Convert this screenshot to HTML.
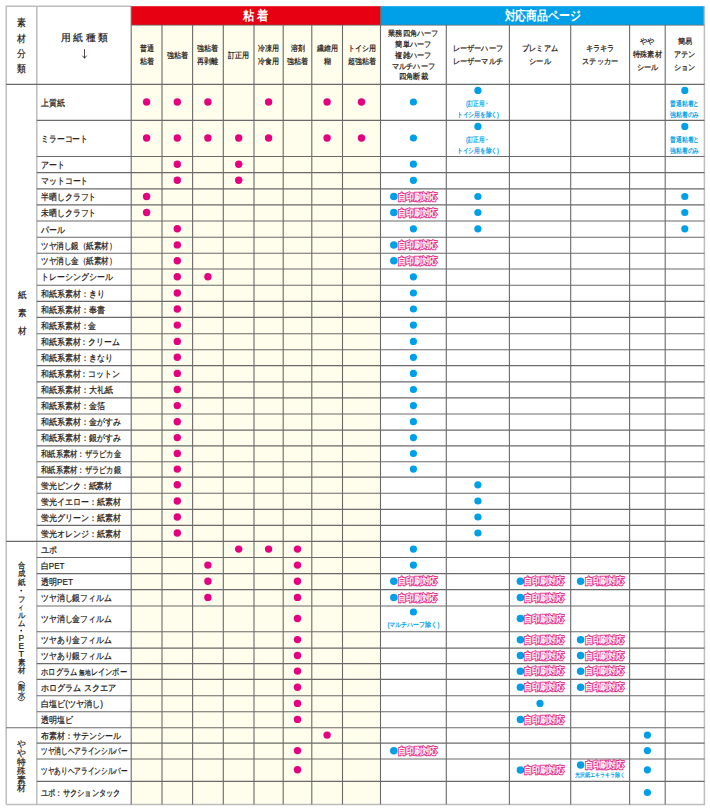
<!DOCTYPE html>
<html><head><meta charset="utf-8"><style>
html,body{margin:0;padding:0;background:#fff;width:710px;height:810px;overflow:hidden}
svg{position:absolute;left:0;top:0;display:block}
text{font-family:"Liberation Sans",sans-serif}
</style></head><body>
<svg width="710" height="810" viewBox="0 0 710 810">
<rect x="131.2" y="25.0" width="249.3" height="779.4" fill="#fffdec"/>
<rect x="131.2" y="6.2" width="249.3" height="18.8" fill="#e60012"/>
<rect x="380.5" y="6.2" width="323.9" height="18.8" fill="#00a0e9"/>
<path d="M6.2 804.4V6.2H131.2" stroke="#bdbdbd" stroke-width="1.5" fill="none"/>
<path d="M704.4 6.2V804.4H6.2" stroke="#bdbdbd" stroke-width="1.5" fill="none"/>
<path d="M36.8 6.2V804.4" stroke="#bdbdbd" stroke-width="1.5" fill="none"/>
<path d="M131.2 6.2V804.4" stroke="#6a6a6a" stroke-width="1.1" fill="none"/>
<path d="M162.0 25.0V804.4" stroke="#6a6a6a" stroke-width="1.1" fill="none"/>
<path d="M192.6 25.0V804.4" stroke="#6a6a6a" stroke-width="1.1" fill="none"/>
<path d="M223.3 25.0V804.4" stroke="#6a6a6a" stroke-width="1.1" fill="none"/>
<path d="M254.0 25.0V804.4" stroke="#6a6a6a" stroke-width="1.1" fill="none"/>
<path d="M283.2 25.0V804.4" stroke="#6a6a6a" stroke-width="1.1" fill="none"/>
<path d="M311.8 25.0V804.4" stroke="#6a6a6a" stroke-width="1.1" fill="none"/>
<path d="M342.5 25.0V804.4" stroke="#6a6a6a" stroke-width="1.1" fill="none"/>
<path d="M380.5 6.2V804.4" stroke="#6a6a6a" stroke-width="1.1" fill="none"/>
<path d="M446.3 25.0V804.4" stroke="#6a6a6a" stroke-width="1.1" fill="none"/>
<path d="M509.4 25.0V804.4" stroke="#6a6a6a" stroke-width="1.1" fill="none"/>
<path d="M570.7 25.0V804.4" stroke="#6a6a6a" stroke-width="1.1" fill="none"/>
<path d="M629.6 25.0V804.4" stroke="#6a6a6a" stroke-width="1.1" fill="none"/>
<path d="M665.2 25.0V804.4" stroke="#6a6a6a" stroke-width="1.1" fill="none"/>
<path d="M131.2 25.2H704.4" stroke="#6a6a6a" stroke-width="0.8" fill="none"/>
<path d="M6.2 84.4H704.4" stroke="#6a6a6a" stroke-width="1.1" fill="none"/>
<path d="M36.8 120.4H704.4" stroke="#6a6a6a" stroke-width="1.1" fill="none"/>
<path d="M36.8 156.5H704.4" stroke="#6a6a6a" stroke-width="1.1" fill="none"/>
<path d="M36.8 172.6H704.4" stroke="#6a6a6a" stroke-width="1.1" fill="none"/>
<path d="M36.8 188.9H704.4" stroke="#6a6a6a" stroke-width="1.1" fill="none"/>
<path d="M36.8 204.9H704.4" stroke="#6a6a6a" stroke-width="1.1" fill="none"/>
<path d="M36.8 221.0H704.4" stroke="#6a6a6a" stroke-width="1.1" fill="none"/>
<path d="M36.8 237.3H704.4" stroke="#6a6a6a" stroke-width="1.1" fill="none"/>
<path d="M36.8 253.3H704.4" stroke="#6a6a6a" stroke-width="1.1" fill="none"/>
<path d="M36.8 269.0H704.4" stroke="#6a6a6a" stroke-width="1.1" fill="none"/>
<path d="M36.8 285.3H704.4" stroke="#6a6a6a" stroke-width="1.1" fill="none"/>
<path d="M36.8 301.4H704.4" stroke="#6a6a6a" stroke-width="1.1" fill="none"/>
<path d="M36.8 317.4H704.4" stroke="#6a6a6a" stroke-width="1.1" fill="none"/>
<path d="M36.8 333.7H704.4" stroke="#6a6a6a" stroke-width="1.1" fill="none"/>
<path d="M36.8 349.8H704.4" stroke="#6a6a6a" stroke-width="1.1" fill="none"/>
<path d="M36.8 365.6H704.4" stroke="#6a6a6a" stroke-width="1.1" fill="none"/>
<path d="M36.8 381.9H704.4" stroke="#6a6a6a" stroke-width="1.1" fill="none"/>
<path d="M36.8 397.9H704.4" stroke="#6a6a6a" stroke-width="1.1" fill="none"/>
<path d="M36.8 414.0H704.4" stroke="#6a6a6a" stroke-width="1.1" fill="none"/>
<path d="M36.8 430.1H704.4" stroke="#6a6a6a" stroke-width="1.1" fill="none"/>
<path d="M36.8 445.9H704.4" stroke="#6a6a6a" stroke-width="1.1" fill="none"/>
<path d="M36.8 461.8H704.4" stroke="#6a6a6a" stroke-width="1.1" fill="none"/>
<path d="M36.8 477.1H704.4" stroke="#6a6a6a" stroke-width="1.1" fill="none"/>
<path d="M36.8 493.3H704.4" stroke="#6a6a6a" stroke-width="1.1" fill="none"/>
<path d="M36.8 509.4H704.4" stroke="#6a6a6a" stroke-width="1.1" fill="none"/>
<path d="M36.8 525.4H704.4" stroke="#6a6a6a" stroke-width="1.1" fill="none"/>
<path d="M6.2 541.4H704.4" stroke="#6a6a6a" stroke-width="1.1" fill="none"/>
<path d="M36.8 557.5H704.4" stroke="#6a6a6a" stroke-width="1.1" fill="none"/>
<path d="M36.8 573.6H704.4" stroke="#6a6a6a" stroke-width="1.1" fill="none"/>
<path d="M36.8 589.6H704.4" stroke="#6a6a6a" stroke-width="1.1" fill="none"/>
<path d="M36.8 606.0H704.4" stroke="#6a6a6a" stroke-width="1.1" fill="none"/>
<path d="M36.8 631.8H704.4" stroke="#6a6a6a" stroke-width="1.1" fill="none"/>
<path d="M36.8 648.1H704.4" stroke="#6a6a6a" stroke-width="1.1" fill="none"/>
<path d="M36.8 663.6H704.4" stroke="#6a6a6a" stroke-width="1.1" fill="none"/>
<path d="M36.8 679.4H704.4" stroke="#6a6a6a" stroke-width="1.1" fill="none"/>
<path d="M36.8 695.8H704.4" stroke="#6a6a6a" stroke-width="1.1" fill="none"/>
<path d="M36.8 711.7H704.4" stroke="#6a6a6a" stroke-width="1.1" fill="none"/>
<path d="M6.2 727.8H704.4" stroke="#6a6a6a" stroke-width="1.1" fill="none"/>
<path d="M36.8 743.1H704.4" stroke="#6a6a6a" stroke-width="1.1" fill="none"/>
<path d="M36.8 759.0H704.4" stroke="#6a6a6a" stroke-width="1.1" fill="none"/>
<path d="M36.8 781.4H704.4" stroke="#6a6a6a" stroke-width="1.1" fill="none"/>
<circle cx="146.6" cy="102.0" r="3.7" fill="#e5007f"/>
<circle cx="177.3" cy="102.0" r="3.7" fill="#e5007f"/>
<circle cx="207.9" cy="102.0" r="3.7" fill="#e5007f"/>
<circle cx="268.6" cy="102.0" r="3.7" fill="#e5007f"/>
<circle cx="327.1" cy="102.0" r="3.7" fill="#e5007f"/>
<circle cx="361.5" cy="102.0" r="3.7" fill="#e5007f"/>
<circle cx="413.4" cy="102.0" r="3.6" fill="#00a0e9"/>
<circle cx="477.9" cy="90.4" r="3.6" fill="#00a0e9"/>
<circle cx="684.8" cy="90.4" r="3.6" fill="#00a0e9"/>
<circle cx="146.6" cy="138.0" r="3.7" fill="#e5007f"/>
<circle cx="177.3" cy="138.0" r="3.7" fill="#e5007f"/>
<circle cx="207.9" cy="138.0" r="3.7" fill="#e5007f"/>
<circle cx="238.7" cy="138.0" r="3.7" fill="#e5007f"/>
<circle cx="268.6" cy="138.0" r="3.7" fill="#e5007f"/>
<circle cx="327.1" cy="138.0" r="3.7" fill="#e5007f"/>
<circle cx="361.5" cy="138.0" r="3.7" fill="#e5007f"/>
<circle cx="413.4" cy="138.0" r="3.6" fill="#00a0e9"/>
<circle cx="477.9" cy="126.4" r="3.6" fill="#00a0e9"/>
<circle cx="684.8" cy="126.4" r="3.6" fill="#00a0e9"/>
<circle cx="177.3" cy="164.2" r="3.7" fill="#e5007f"/>
<circle cx="238.7" cy="164.2" r="3.7" fill="#e5007f"/>
<circle cx="413.4" cy="164.2" r="3.6" fill="#00a0e9"/>
<circle cx="177.3" cy="180.3" r="3.7" fill="#e5007f"/>
<circle cx="238.7" cy="180.3" r="3.7" fill="#e5007f"/>
<circle cx="413.4" cy="180.3" r="3.6" fill="#00a0e9"/>
<circle cx="146.6" cy="196.5" r="3.7" fill="#e5007f"/>
<circle cx="393.8" cy="196.6" r="3.75" fill="#00a0e9"/>
<circle cx="477.9" cy="196.5" r="3.6" fill="#00a0e9"/>
<circle cx="684.8" cy="196.5" r="3.6" fill="#00a0e9"/>
<circle cx="146.6" cy="212.5" r="3.7" fill="#e5007f"/>
<circle cx="393.8" cy="212.6" r="3.75" fill="#00a0e9"/>
<circle cx="477.9" cy="212.5" r="3.6" fill="#00a0e9"/>
<circle cx="684.8" cy="212.5" r="3.6" fill="#00a0e9"/>
<circle cx="177.3" cy="228.8" r="3.7" fill="#e5007f"/>
<circle cx="413.4" cy="228.8" r="3.6" fill="#00a0e9"/>
<circle cx="477.9" cy="228.8" r="3.6" fill="#00a0e9"/>
<circle cx="684.8" cy="228.8" r="3.6" fill="#00a0e9"/>
<circle cx="177.3" cy="244.9" r="3.7" fill="#e5007f"/>
<circle cx="393.8" cy="245.0" r="3.75" fill="#00a0e9"/>
<circle cx="177.3" cy="260.8" r="3.7" fill="#e5007f"/>
<circle cx="393.8" cy="260.8" r="3.75" fill="#00a0e9"/>
<circle cx="177.3" cy="276.8" r="3.7" fill="#e5007f"/>
<circle cx="207.9" cy="276.8" r="3.7" fill="#e5007f"/>
<circle cx="413.4" cy="276.8" r="3.6" fill="#00a0e9"/>
<circle cx="177.3" cy="293.0" r="3.7" fill="#e5007f"/>
<circle cx="413.4" cy="293.0" r="3.6" fill="#00a0e9"/>
<circle cx="177.3" cy="309.0" r="3.7" fill="#e5007f"/>
<circle cx="413.4" cy="309.0" r="3.6" fill="#00a0e9"/>
<circle cx="177.3" cy="325.1" r="3.7" fill="#e5007f"/>
<circle cx="413.4" cy="325.1" r="3.6" fill="#00a0e9"/>
<circle cx="177.3" cy="341.4" r="3.7" fill="#e5007f"/>
<circle cx="413.4" cy="341.4" r="3.6" fill="#00a0e9"/>
<circle cx="177.3" cy="357.3" r="3.7" fill="#e5007f"/>
<circle cx="413.4" cy="357.3" r="3.6" fill="#00a0e9"/>
<circle cx="177.3" cy="373.4" r="3.7" fill="#e5007f"/>
<circle cx="413.4" cy="373.4" r="3.6" fill="#00a0e9"/>
<circle cx="177.3" cy="389.5" r="3.7" fill="#e5007f"/>
<circle cx="413.4" cy="389.5" r="3.6" fill="#00a0e9"/>
<circle cx="177.3" cy="405.6" r="3.7" fill="#e5007f"/>
<circle cx="413.4" cy="405.6" r="3.6" fill="#00a0e9"/>
<circle cx="177.3" cy="421.7" r="3.7" fill="#e5007f"/>
<circle cx="413.4" cy="421.7" r="3.6" fill="#00a0e9"/>
<circle cx="177.3" cy="437.6" r="3.7" fill="#e5007f"/>
<circle cx="413.4" cy="437.6" r="3.6" fill="#00a0e9"/>
<circle cx="177.3" cy="453.5" r="3.7" fill="#e5007f"/>
<circle cx="413.4" cy="453.5" r="3.6" fill="#00a0e9"/>
<circle cx="177.3" cy="469.1" r="3.7" fill="#e5007f"/>
<circle cx="413.4" cy="469.1" r="3.6" fill="#00a0e9"/>
<circle cx="177.3" cy="484.8" r="3.7" fill="#e5007f"/>
<circle cx="477.9" cy="484.8" r="3.6" fill="#00a0e9"/>
<circle cx="177.3" cy="501.0" r="3.7" fill="#e5007f"/>
<circle cx="477.9" cy="501.0" r="3.6" fill="#00a0e9"/>
<circle cx="177.3" cy="517.0" r="3.7" fill="#e5007f"/>
<circle cx="477.9" cy="517.0" r="3.6" fill="#00a0e9"/>
<circle cx="177.3" cy="533.0" r="3.7" fill="#e5007f"/>
<circle cx="477.9" cy="533.0" r="3.6" fill="#00a0e9"/>
<circle cx="238.7" cy="549.1" r="3.7" fill="#e5007f"/>
<circle cx="268.6" cy="549.1" r="3.7" fill="#e5007f"/>
<circle cx="297.5" cy="549.1" r="3.7" fill="#e5007f"/>
<circle cx="413.4" cy="549.1" r="3.6" fill="#00a0e9"/>
<circle cx="207.9" cy="565.1" r="3.7" fill="#e5007f"/>
<circle cx="297.5" cy="565.1" r="3.7" fill="#e5007f"/>
<circle cx="413.4" cy="565.1" r="3.6" fill="#00a0e9"/>
<circle cx="207.9" cy="581.2" r="3.7" fill="#e5007f"/>
<circle cx="297.5" cy="581.2" r="3.7" fill="#e5007f"/>
<circle cx="393.8" cy="581.3" r="3.75" fill="#00a0e9"/>
<circle cx="520.4" cy="581.3" r="3.75" fill="#00a0e9"/>
<circle cx="580.6" cy="581.3" r="3.75" fill="#00a0e9"/>
<circle cx="207.9" cy="597.4" r="3.7" fill="#e5007f"/>
<circle cx="297.5" cy="597.4" r="3.7" fill="#e5007f"/>
<circle cx="393.8" cy="597.5" r="3.75" fill="#00a0e9"/>
<circle cx="520.4" cy="597.5" r="3.75" fill="#00a0e9"/>
<circle cx="297.5" cy="618.5" r="3.7" fill="#e5007f"/>
<circle cx="413.4" cy="612.0" r="3.6" fill="#00a0e9"/>
<circle cx="520.4" cy="618.6" r="3.75" fill="#00a0e9"/>
<circle cx="297.5" cy="639.6" r="3.7" fill="#e5007f"/>
<circle cx="520.4" cy="639.7" r="3.75" fill="#00a0e9"/>
<circle cx="580.6" cy="639.7" r="3.75" fill="#00a0e9"/>
<circle cx="297.5" cy="655.5" r="3.7" fill="#e5007f"/>
<circle cx="520.4" cy="655.6" r="3.75" fill="#00a0e9"/>
<circle cx="580.6" cy="655.6" r="3.75" fill="#00a0e9"/>
<circle cx="297.5" cy="671.1" r="3.7" fill="#e5007f"/>
<circle cx="520.4" cy="671.2" r="3.75" fill="#00a0e9"/>
<circle cx="580.6" cy="671.2" r="3.75" fill="#00a0e9"/>
<circle cx="297.5" cy="687.2" r="3.7" fill="#e5007f"/>
<circle cx="520.4" cy="687.3" r="3.75" fill="#00a0e9"/>
<circle cx="580.6" cy="687.3" r="3.75" fill="#00a0e9"/>
<circle cx="297.5" cy="703.4" r="3.7" fill="#e5007f"/>
<circle cx="540.0" cy="703.4" r="3.6" fill="#00a0e9"/>
<circle cx="297.5" cy="719.4" r="3.7" fill="#e5007f"/>
<circle cx="520.4" cy="719.5" r="3.75" fill="#00a0e9"/>
<circle cx="327.1" cy="735.1" r="3.7" fill="#e5007f"/>
<circle cx="647.4" cy="735.1" r="3.6" fill="#00a0e9"/>
<circle cx="297.5" cy="750.6" r="3.7" fill="#e5007f"/>
<circle cx="393.8" cy="750.8" r="3.75" fill="#00a0e9"/>
<circle cx="647.4" cy="750.6" r="3.6" fill="#00a0e9"/>
<circle cx="297.5" cy="769.8" r="3.7" fill="#e5007f"/>
<circle cx="520.4" cy="769.9" r="3.75" fill="#00a0e9"/>
<circle cx="580.6" cy="765.0" r="3.75" fill="#00a0e9"/>
<circle cx="647.4" cy="769.8" r="3.6" fill="#00a0e9"/>
<circle cx="647.4" cy="792.5" r="3.6" fill="#00a0e9"/>
<text x="41.0" y="102.7" font-size="9.20" fill="#231815" font-weight="normal" text-anchor="start" dominant-baseline="central" textLength="23.7" lengthAdjust="spacingAndGlyphs" stroke="#231815" stroke-width="0.22">上質紙</text>
<text x="477.9" y="103.7" font-size="6.67" fill="#00a0e9" font-weight="bold" text-anchor="middle" dominant-baseline="central" textLength="24.0" lengthAdjust="spacingAndGlyphs">(訂正用・</text>
<text x="477.9" y="114.0" font-size="6.67" fill="#00a0e9" font-weight="bold" text-anchor="middle" dominant-baseline="central" textLength="42.0" lengthAdjust="spacingAndGlyphs">トイシ用を除く)</text>
<text x="684.8" y="103.7" font-size="6.67" fill="#00a0e9" font-weight="bold" text-anchor="middle" dominant-baseline="central" textLength="29.0" lengthAdjust="spacingAndGlyphs">普通粘着と</text>
<text x="684.8" y="114.0" font-size="6.67" fill="#00a0e9" font-weight="bold" text-anchor="middle" dominant-baseline="central" textLength="29.0" lengthAdjust="spacingAndGlyphs">強粘着のみ</text>
<text x="41.0" y="138.8" font-size="9.20" fill="#231815" font-weight="normal" text-anchor="start" dominant-baseline="central" textLength="47.2" lengthAdjust="spacingAndGlyphs" stroke="#231815" stroke-width="0.22">ミラーコート</text>
<text x="477.9" y="139.7" font-size="6.67" fill="#00a0e9" font-weight="bold" text-anchor="middle" dominant-baseline="central" textLength="24.0" lengthAdjust="spacingAndGlyphs">(訂正用・</text>
<text x="477.9" y="150.0" font-size="6.67" fill="#00a0e9" font-weight="bold" text-anchor="middle" dominant-baseline="central" textLength="42.0" lengthAdjust="spacingAndGlyphs">トイシ用を除く)</text>
<text x="684.8" y="139.7" font-size="6.67" fill="#00a0e9" font-weight="bold" text-anchor="middle" dominant-baseline="central" textLength="29.0" lengthAdjust="spacingAndGlyphs">普通粘着と</text>
<text x="684.8" y="150.0" font-size="6.67" fill="#00a0e9" font-weight="bold" text-anchor="middle" dominant-baseline="central" textLength="29.0" lengthAdjust="spacingAndGlyphs">強粘着のみ</text>
<text x="41.0" y="164.9" font-size="9.20" fill="#231815" font-weight="normal" text-anchor="start" dominant-baseline="central" textLength="23.8" lengthAdjust="spacingAndGlyphs" stroke="#231815" stroke-width="0.22">アート</text>
<text x="41.0" y="181.1" font-size="9.20" fill="#231815" font-weight="normal" text-anchor="start" dominant-baseline="central" textLength="47.3" lengthAdjust="spacingAndGlyphs" stroke="#231815" stroke-width="0.22">マットコート</text>
<text x="41.0" y="197.2" font-size="9.20" fill="#231815" font-weight="normal" text-anchor="start" dominant-baseline="central" textLength="55.4" lengthAdjust="spacingAndGlyphs" stroke="#231815" stroke-width="0.22">半晒しクラフト</text>
<text x="417.6" y="196.6" font-size="8.8" fill="#fff" stroke="#e4348c" stroke-width="2.0" paint-order="stroke" font-weight="bold" text-anchor="middle" dominant-baseline="central" textLength="39.6" lengthAdjust="spacingAndGlyphs">自印刷対応</text>
<text x="41.0" y="213.2" font-size="9.20" fill="#231815" font-weight="normal" text-anchor="start" dominant-baseline="central" textLength="55.4" lengthAdjust="spacingAndGlyphs" stroke="#231815" stroke-width="0.22">未晒しクラフト</text>
<text x="417.6" y="212.6" font-size="8.8" fill="#fff" stroke="#e4348c" stroke-width="2.0" paint-order="stroke" font-weight="bold" text-anchor="middle" dominant-baseline="central" textLength="39.6" lengthAdjust="spacingAndGlyphs">自印刷対応</text>
<text x="41.0" y="229.5" font-size="9.20" fill="#231815" font-weight="normal" text-anchor="start" dominant-baseline="central" textLength="23.8" lengthAdjust="spacingAndGlyphs" stroke="#231815" stroke-width="0.22">パール</text>
<text x="41.0" y="245.6" font-size="9.20" fill="#231815" font-weight="normal" text-anchor="start" dominant-baseline="central" textLength="75.2" lengthAdjust="spacingAndGlyphs" stroke="#231815" stroke-width="0.22">ツヤ消し銀（紙素材）</text>
<text x="417.6" y="245.0" font-size="8.8" fill="#fff" stroke="#e4348c" stroke-width="2.0" paint-order="stroke" font-weight="bold" text-anchor="middle" dominant-baseline="central" textLength="39.6" lengthAdjust="spacingAndGlyphs">自印刷対応</text>
<text x="41.0" y="261.4" font-size="9.20" fill="#231815" font-weight="normal" text-anchor="start" dominant-baseline="central" textLength="75.2" lengthAdjust="spacingAndGlyphs" stroke="#231815" stroke-width="0.22">ツヤ消し金（紙素材）</text>
<text x="417.6" y="260.8" font-size="8.8" fill="#fff" stroke="#e4348c" stroke-width="2.0" paint-order="stroke" font-weight="bold" text-anchor="middle" dominant-baseline="central" textLength="39.6" lengthAdjust="spacingAndGlyphs">自印刷対応</text>
<text x="41.0" y="277.4" font-size="9.20" fill="#231815" font-weight="normal" text-anchor="start" dominant-baseline="central" textLength="71.6" lengthAdjust="spacingAndGlyphs" stroke="#231815" stroke-width="0.22">トレーシングシール</text>
<text x="41.0" y="293.7" font-size="9.20" fill="#231815" font-weight="normal" text-anchor="start" dominant-baseline="central" textLength="63.5" lengthAdjust="spacingAndGlyphs" stroke="#231815" stroke-width="0.22">和紙系素材：きり</text>
<text x="41.0" y="309.7" font-size="9.20" fill="#231815" font-weight="normal" text-anchor="start" dominant-baseline="central" textLength="63.5" lengthAdjust="spacingAndGlyphs" stroke="#231815" stroke-width="0.22">和紙系素材：奉書</text>
<text x="41.0" y="325.8" font-size="9.20" fill="#231815" font-weight="normal" text-anchor="start" dominant-baseline="central" textLength="55.4" lengthAdjust="spacingAndGlyphs" stroke="#231815" stroke-width="0.22">和紙系素材：金</text>
<text x="41.0" y="342.1" font-size="9.20" fill="#231815" font-weight="normal" text-anchor="start" dominant-baseline="central" textLength="78.8" lengthAdjust="spacingAndGlyphs" stroke="#231815" stroke-width="0.22">和紙系素材：クリーム</text>
<text x="41.0" y="358.0" font-size="9.20" fill="#231815" font-weight="normal" text-anchor="start" dominant-baseline="central" textLength="71.6" lengthAdjust="spacingAndGlyphs" stroke="#231815" stroke-width="0.22">和紙系素材：きなり</text>
<text x="41.0" y="374.1" font-size="9.20" fill="#231815" font-weight="normal" text-anchor="start" dominant-baseline="central" textLength="78.8" lengthAdjust="spacingAndGlyphs" stroke="#231815" stroke-width="0.22">和紙系素材：コットン</text>
<text x="41.0" y="390.2" font-size="9.20" fill="#231815" font-weight="normal" text-anchor="start" dominant-baseline="central" textLength="71.6" lengthAdjust="spacingAndGlyphs" stroke="#231815" stroke-width="0.22">和紙系素材：大礼紙</text>
<text x="41.0" y="406.2" font-size="9.20" fill="#231815" font-weight="normal" text-anchor="start" dominant-baseline="central" textLength="63.5" lengthAdjust="spacingAndGlyphs" stroke="#231815" stroke-width="0.22">和紙系素材：金箔</text>
<text x="41.0" y="422.4" font-size="9.20" fill="#231815" font-weight="normal" text-anchor="start" dominant-baseline="central" textLength="79.7" lengthAdjust="spacingAndGlyphs" stroke="#231815" stroke-width="0.22">和紙系素材：金がすみ</text>
<text x="41.0" y="438.3" font-size="9.20" fill="#231815" font-weight="normal" text-anchor="start" dominant-baseline="central" textLength="79.7" lengthAdjust="spacingAndGlyphs" stroke="#231815" stroke-width="0.22">和紙系素材：銀がすみ</text>
<text x="41.0" y="454.2" font-size="9.20" fill="#231815" font-weight="normal" text-anchor="start" dominant-baseline="central" textLength="80.0" lengthAdjust="spacingAndGlyphs" stroke="#231815" stroke-width="0.22">和紙系素材：ザラピカ金</text>
<text x="41.0" y="469.8" font-size="9.20" fill="#231815" font-weight="normal" text-anchor="start" dominant-baseline="central" textLength="80.0" lengthAdjust="spacingAndGlyphs" stroke="#231815" stroke-width="0.22">和紙系素材：ザラピカ銀</text>
<text x="41.0" y="485.5" font-size="9.20" fill="#231815" font-weight="normal" text-anchor="start" dominant-baseline="central" textLength="71.3" lengthAdjust="spacingAndGlyphs" stroke="#231815" stroke-width="0.22">蛍光ピンク：紙素材</text>
<text x="41.0" y="501.7" font-size="9.20" fill="#231815" font-weight="normal" text-anchor="start" dominant-baseline="central" textLength="79.6" lengthAdjust="spacingAndGlyphs" stroke="#231815" stroke-width="0.22">蛍光イエロー：紙素材</text>
<text x="41.0" y="517.7" font-size="9.20" fill="#231815" font-weight="normal" text-anchor="start" dominant-baseline="central" textLength="79.6" lengthAdjust="spacingAndGlyphs" stroke="#231815" stroke-width="0.22">蛍光グリーン：紙素材</text>
<text x="41.0" y="533.7" font-size="9.20" fill="#231815" font-weight="normal" text-anchor="start" dominant-baseline="central" textLength="79.6" lengthAdjust="spacingAndGlyphs" stroke="#231815" stroke-width="0.22">蛍光オレンジ：紙素材</text>
<text x="41.0" y="549.8" font-size="9.20" fill="#231815" font-weight="normal" text-anchor="start" dominant-baseline="central" textLength="15.8" lengthAdjust="spacingAndGlyphs" stroke="#231815" stroke-width="0.22">ユポ</text>
<text x="41.0" y="565.8" font-size="9.20" fill="#231815" font-weight="normal" text-anchor="start" dominant-baseline="central" textLength="23.5" lengthAdjust="spacingAndGlyphs" stroke="#231815" stroke-width="0.22">白PET</text>
<text x="41.0" y="581.9" font-size="9.20" fill="#231815" font-weight="normal" text-anchor="start" dominant-baseline="central" textLength="32.0" lengthAdjust="spacingAndGlyphs" stroke="#231815" stroke-width="0.22">透明PET</text>
<text x="417.6" y="581.3" font-size="8.8" fill="#fff" stroke="#e4348c" stroke-width="2.0" paint-order="stroke" font-weight="bold" text-anchor="middle" dominant-baseline="central" textLength="39.6" lengthAdjust="spacingAndGlyphs">自印刷対応</text>
<text x="544.2" y="581.3" font-size="8.8" fill="#fff" stroke="#e4348c" stroke-width="2.0" paint-order="stroke" font-weight="bold" text-anchor="middle" dominant-baseline="central" textLength="39.6" lengthAdjust="spacingAndGlyphs">自印刷対応</text>
<text x="604.4" y="581.3" font-size="8.8" fill="#fff" stroke="#e4348c" stroke-width="2.0" paint-order="stroke" font-weight="bold" text-anchor="middle" dominant-baseline="central" textLength="39.6" lengthAdjust="spacingAndGlyphs">自印刷対応</text>
<text x="41.0" y="598.1" font-size="9.20" fill="#231815" font-weight="normal" text-anchor="start" dominant-baseline="central" textLength="70.6" lengthAdjust="spacingAndGlyphs" stroke="#231815" stroke-width="0.22">ツヤ消し銀フィルム</text>
<text x="417.6" y="597.5" font-size="8.8" fill="#fff" stroke="#e4348c" stroke-width="2.0" paint-order="stroke" font-weight="bold" text-anchor="middle" dominant-baseline="central" textLength="39.6" lengthAdjust="spacingAndGlyphs">自印刷対応</text>
<text x="544.2" y="597.5" font-size="8.8" fill="#fff" stroke="#e4348c" stroke-width="2.0" paint-order="stroke" font-weight="bold" text-anchor="middle" dominant-baseline="central" textLength="39.6" lengthAdjust="spacingAndGlyphs">自印刷対応</text>
<text x="41.0" y="619.2" font-size="9.20" fill="#231815" font-weight="normal" text-anchor="start" dominant-baseline="central" textLength="70.6" lengthAdjust="spacingAndGlyphs" stroke="#231815" stroke-width="0.22">ツヤ消し金フィルム</text>
<text x="413.4" y="624.7" font-size="6.67" fill="#00a0e9" font-weight="bold" text-anchor="middle" dominant-baseline="central" textLength="52.0" lengthAdjust="spacingAndGlyphs">(マルチハーフ除く)</text>
<text x="544.2" y="618.6" font-size="8.8" fill="#fff" stroke="#e4348c" stroke-width="2.0" paint-order="stroke" font-weight="bold" text-anchor="middle" dominant-baseline="central" textLength="39.6" lengthAdjust="spacingAndGlyphs">自印刷対応</text>
<text x="41.0" y="640.2" font-size="9.20" fill="#231815" font-weight="normal" text-anchor="start" dominant-baseline="central" textLength="70.6" lengthAdjust="spacingAndGlyphs" stroke="#231815" stroke-width="0.22">ツヤあり金フィルム</text>
<text x="544.2" y="639.7" font-size="8.8" fill="#fff" stroke="#e4348c" stroke-width="2.0" paint-order="stroke" font-weight="bold" text-anchor="middle" dominant-baseline="central" textLength="39.6" lengthAdjust="spacingAndGlyphs">自印刷対応</text>
<text x="604.4" y="639.7" font-size="8.8" fill="#fff" stroke="#e4348c" stroke-width="2.0" paint-order="stroke" font-weight="bold" text-anchor="middle" dominant-baseline="central" textLength="39.6" lengthAdjust="spacingAndGlyphs">自印刷対応</text>
<text x="41.0" y="656.1" font-size="9.20" fill="#231815" font-weight="normal" text-anchor="start" dominant-baseline="central" textLength="70.6" lengthAdjust="spacingAndGlyphs" stroke="#231815" stroke-width="0.22">ツヤあり銀フィルム</text>
<text x="544.2" y="655.6" font-size="8.8" fill="#fff" stroke="#e4348c" stroke-width="2.0" paint-order="stroke" font-weight="bold" text-anchor="middle" dominant-baseline="central" textLength="39.6" lengthAdjust="spacingAndGlyphs">自印刷対応</text>
<text x="604.4" y="655.6" font-size="8.8" fill="#fff" stroke="#e4348c" stroke-width="2.0" paint-order="stroke" font-weight="bold" text-anchor="middle" dominant-baseline="central" textLength="39.6" lengthAdjust="spacingAndGlyphs">自印刷対応</text>
<text x="41.0" y="671.8" font-size="9.20" fill="#231815" font-weight="normal" text-anchor="start" dominant-baseline="central" textLength="86.0" lengthAdjust="spacingAndGlyphs" stroke="#231815" stroke-width="0.22">ホログラム <tspan font-size="7.2">無地</tspan>レインボー</text>
<text x="544.2" y="671.2" font-size="8.8" fill="#fff" stroke="#e4348c" stroke-width="2.0" paint-order="stroke" font-weight="bold" text-anchor="middle" dominant-baseline="central" textLength="39.6" lengthAdjust="spacingAndGlyphs">自印刷対応</text>
<text x="604.4" y="671.2" font-size="8.8" fill="#fff" stroke="#e4348c" stroke-width="2.0" paint-order="stroke" font-weight="bold" text-anchor="middle" dominant-baseline="central" textLength="39.6" lengthAdjust="spacingAndGlyphs">自印刷対応</text>
<text x="41.0" y="687.9" font-size="9.20" fill="#231815" font-weight="normal" text-anchor="start" dominant-baseline="central" textLength="75.0" lengthAdjust="spacingAndGlyphs" stroke="#231815" stroke-width="0.22">ホログラム スクエア</text>
<text x="544.2" y="687.3" font-size="8.8" fill="#fff" stroke="#e4348c" stroke-width="2.0" paint-order="stroke" font-weight="bold" text-anchor="middle" dominant-baseline="central" textLength="39.6" lengthAdjust="spacingAndGlyphs">自印刷対応</text>
<text x="604.4" y="687.3" font-size="8.8" fill="#fff" stroke="#e4348c" stroke-width="2.0" paint-order="stroke" font-weight="bold" text-anchor="middle" dominant-baseline="central" textLength="39.6" lengthAdjust="spacingAndGlyphs">自印刷対応</text>
<text x="41.0" y="704.0" font-size="9.20" fill="#231815" font-weight="normal" text-anchor="start" dominant-baseline="central" textLength="62.0" lengthAdjust="spacingAndGlyphs" stroke="#231815" stroke-width="0.22">白塩ビ(ツヤ消し)</text>
<text x="41.0" y="720.0" font-size="9.20" fill="#231815" font-weight="normal" text-anchor="start" dominant-baseline="central" textLength="32.0" lengthAdjust="spacingAndGlyphs" stroke="#231815" stroke-width="0.22">透明塩ビ</text>
<text x="544.2" y="719.5" font-size="8.8" fill="#fff" stroke="#e4348c" stroke-width="2.0" paint-order="stroke" font-weight="bold" text-anchor="middle" dominant-baseline="central" textLength="39.6" lengthAdjust="spacingAndGlyphs">自印刷対応</text>
<text x="41.0" y="735.8" font-size="9.20" fill="#231815" font-weight="normal" text-anchor="start" dominant-baseline="central" textLength="79.7" lengthAdjust="spacingAndGlyphs" stroke="#231815" stroke-width="0.22">布素材：サテンシール</text>
<text x="41.0" y="751.3" font-size="9.20" fill="#231815" font-weight="normal" text-anchor="start" dominant-baseline="central" textLength="86.5" lengthAdjust="spacingAndGlyphs" stroke="#231815" stroke-width="0.22">ツヤ消しヘアラインシルバー</text>
<text x="417.6" y="750.8" font-size="8.8" fill="#fff" stroke="#e4348c" stroke-width="2.0" paint-order="stroke" font-weight="bold" text-anchor="middle" dominant-baseline="central" textLength="39.6" lengthAdjust="spacingAndGlyphs">自印刷対応</text>
<text x="41.0" y="770.5" font-size="9.20" fill="#231815" font-weight="normal" text-anchor="start" dominant-baseline="central" textLength="86.5" lengthAdjust="spacingAndGlyphs" stroke="#231815" stroke-width="0.22">ツヤありヘアラインシルバー</text>
<text x="544.2" y="769.9" font-size="8.8" fill="#fff" stroke="#e4348c" stroke-width="2.0" paint-order="stroke" font-weight="bold" text-anchor="middle" dominant-baseline="central" textLength="39.6" lengthAdjust="spacingAndGlyphs">自印刷対応</text>
<text x="604.4" y="765.0" font-size="8.8" fill="#fff" stroke="#e4348c" stroke-width="2.0" paint-order="stroke" font-weight="bold" text-anchor="middle" dominant-baseline="central" textLength="39.6" lengthAdjust="spacingAndGlyphs">自印刷対応</text>
<text x="600.2" y="774.7" font-size="5.75" fill="#00a0e9" font-weight="bold" text-anchor="middle" dominant-baseline="central" textLength="50.0" lengthAdjust="spacingAndGlyphs">光沢紙エキラキラ除く</text>
<text x="41.0" y="793.2" font-size="9.20" fill="#231815" font-weight="normal" text-anchor="start" dominant-baseline="central" textLength="79.7" lengthAdjust="spacingAndGlyphs" stroke="#231815" stroke-width="0.22">ユポ：サクションタック</text>
<text x="255.8" y="15.9" font-size="12.65" fill="#fff" font-weight="bold" text-anchor="middle" dominant-baseline="central" textLength="25.5" lengthAdjust="spacingAndGlyphs">粘 着</text>
<text x="542.5" y="15.6" font-size="12.65" fill="#fff" font-weight="bold" text-anchor="middle" dominant-baseline="central" textLength="76.0" lengthAdjust="spacingAndGlyphs">対応商品ページ</text>
<text x="21.8" y="22.7" font-size="10.35" fill="#231815" font-weight="normal" text-anchor="middle" dominant-baseline="central" textLength="8.8" lengthAdjust="spacingAndGlyphs" stroke="#231815" stroke-width="0.22">素</text>
<text x="21.8" y="38.0" font-size="10.35" fill="#231815" font-weight="normal" text-anchor="middle" dominant-baseline="central" textLength="8.8" lengthAdjust="spacingAndGlyphs" stroke="#231815" stroke-width="0.22">材</text>
<text x="21.8" y="53.3" font-size="10.35" fill="#231815" font-weight="normal" text-anchor="middle" dominant-baseline="central" textLength="8.8" lengthAdjust="spacingAndGlyphs" stroke="#231815" stroke-width="0.22">分</text>
<text x="21.8" y="68.6" font-size="10.35" fill="#231815" font-weight="normal" text-anchor="middle" dominant-baseline="central" textLength="8.8" lengthAdjust="spacingAndGlyphs" stroke="#231815" stroke-width="0.22">類</text>
<text x="84.3" y="37.3" font-size="10.35" fill="#231815" font-weight="normal" text-anchor="middle" dominant-baseline="central" textLength="47.4" lengthAdjust="spacingAndGlyphs" stroke="#231815" stroke-width="0.22">用 紙 種 類</text>
<path d="M84.5 49.2V58.2M82.3 55.6L84.5 58.2L86.7 55.6" stroke="#231815" stroke-width="0.8" fill="none"/>
<text x="146.6" y="48.7" font-size="8.05" fill="#231815" font-weight="normal" text-anchor="middle" dominant-baseline="central" textLength="14.0" lengthAdjust="spacingAndGlyphs" stroke="#231815" stroke-width="0.22">普通</text>
<text x="146.6" y="61.3" font-size="8.05" fill="#231815" font-weight="normal" text-anchor="middle" dominant-baseline="central" textLength="14.0" lengthAdjust="spacingAndGlyphs" stroke="#231815" stroke-width="0.22">粘着</text>
<text x="177.3" y="55.3" font-size="8.05" fill="#231815" font-weight="normal" text-anchor="middle" dominant-baseline="central" textLength="21.0" lengthAdjust="spacingAndGlyphs" stroke="#231815" stroke-width="0.22">強粘着</text>
<text x="207.9" y="48.7" font-size="8.05" fill="#231815" font-weight="normal" text-anchor="middle" dominant-baseline="central" textLength="21.0" lengthAdjust="spacingAndGlyphs" stroke="#231815" stroke-width="0.22">強粘着</text>
<text x="207.9" y="61.3" font-size="8.05" fill="#231815" font-weight="normal" text-anchor="middle" dominant-baseline="central" textLength="21.0" lengthAdjust="spacingAndGlyphs" stroke="#231815" stroke-width="0.22">再剥離</text>
<text x="238.7" y="55.3" font-size="8.05" fill="#231815" font-weight="normal" text-anchor="middle" dominant-baseline="central" textLength="21.0" lengthAdjust="spacingAndGlyphs" stroke="#231815" stroke-width="0.22">訂正用</text>
<text x="268.6" y="48.7" font-size="8.05" fill="#231815" font-weight="normal" text-anchor="middle" dominant-baseline="central" textLength="21.0" lengthAdjust="spacingAndGlyphs" stroke="#231815" stroke-width="0.22">冷凍用</text>
<text x="268.6" y="61.3" font-size="8.05" fill="#231815" font-weight="normal" text-anchor="middle" dominant-baseline="central" textLength="21.0" lengthAdjust="spacingAndGlyphs" stroke="#231815" stroke-width="0.22">冷食用</text>
<text x="297.5" y="48.7" font-size="8.05" fill="#231815" font-weight="normal" text-anchor="middle" dominant-baseline="central" textLength="14.0" lengthAdjust="spacingAndGlyphs" stroke="#231815" stroke-width="0.22">溶剤</text>
<text x="297.5" y="61.3" font-size="8.05" fill="#231815" font-weight="normal" text-anchor="middle" dominant-baseline="central" textLength="21.0" lengthAdjust="spacingAndGlyphs" stroke="#231815" stroke-width="0.22">強粘着</text>
<text x="327.1" y="48.7" font-size="8.05" fill="#231815" font-weight="normal" text-anchor="middle" dominant-baseline="central" textLength="21.0" lengthAdjust="spacingAndGlyphs" stroke="#231815" stroke-width="0.22">繊維用</text>
<text x="327.1" y="61.3" font-size="8.05" fill="#231815" font-weight="normal" text-anchor="middle" dominant-baseline="central" textLength="7.0" lengthAdjust="spacingAndGlyphs" stroke="#231815" stroke-width="0.22">糊</text>
<text x="361.5" y="48.7" font-size="8.05" fill="#231815" font-weight="normal" text-anchor="middle" dominant-baseline="central" textLength="28.0" lengthAdjust="spacingAndGlyphs" stroke="#231815" stroke-width="0.22">トイシ用</text>
<text x="361.5" y="61.3" font-size="8.05" fill="#231815" font-weight="normal" text-anchor="middle" dominant-baseline="central" textLength="28.0" lengthAdjust="spacingAndGlyphs" stroke="#231815" stroke-width="0.22">超強粘着</text>
<text x="413.4" y="33.3" font-size="8.28" fill="#231815" font-weight="normal" text-anchor="middle" dominant-baseline="central" textLength="50.4" lengthAdjust="spacingAndGlyphs" stroke="#231815" stroke-width="0.22">業務四角ハーフ</text>
<text x="413.4" y="44.2" font-size="8.28" fill="#231815" font-weight="normal" text-anchor="middle" dominant-baseline="central" textLength="36.0" lengthAdjust="spacingAndGlyphs" stroke="#231815" stroke-width="0.22">簡単ハーフ</text>
<text x="413.4" y="55.1" font-size="8.28" fill="#231815" font-weight="normal" text-anchor="middle" dominant-baseline="central" textLength="36.0" lengthAdjust="spacingAndGlyphs" stroke="#231815" stroke-width="0.22">複雑ハーフ</text>
<text x="413.4" y="66.0" font-size="8.28" fill="#231815" font-weight="normal" text-anchor="middle" dominant-baseline="central" textLength="43.2" lengthAdjust="spacingAndGlyphs" stroke="#231815" stroke-width="0.22">マルチハーフ</text>
<text x="413.4" y="76.9" font-size="8.28" fill="#231815" font-weight="normal" text-anchor="middle" dominant-baseline="central" textLength="28.8" lengthAdjust="spacingAndGlyphs" stroke="#231815" stroke-width="0.22">四角断裁</text>
<text x="477.9" y="48.2" font-size="8.28" fill="#231815" font-weight="normal" text-anchor="middle" dominant-baseline="central" textLength="50.4" lengthAdjust="spacingAndGlyphs" stroke="#231815" stroke-width="0.22">レーザーハーフ</text>
<text x="477.9" y="61.0" font-size="8.28" fill="#231815" font-weight="normal" text-anchor="middle" dominant-baseline="central" textLength="50.4" lengthAdjust="spacingAndGlyphs" stroke="#231815" stroke-width="0.22">レーザーマルチ</text>
<text x="540.0" y="48.2" font-size="8.28" fill="#231815" font-weight="normal" text-anchor="middle" dominant-baseline="central" textLength="36.0" lengthAdjust="spacingAndGlyphs" stroke="#231815" stroke-width="0.22">プレミアム</text>
<text x="540.0" y="61.0" font-size="8.28" fill="#231815" font-weight="normal" text-anchor="middle" dominant-baseline="central" textLength="21.6" lengthAdjust="spacingAndGlyphs" stroke="#231815" stroke-width="0.22">シール</text>
<text x="600.2" y="48.2" font-size="8.28" fill="#231815" font-weight="normal" text-anchor="middle" dominant-baseline="central" textLength="28.8" lengthAdjust="spacingAndGlyphs" stroke="#231815" stroke-width="0.22">キラキラ</text>
<text x="600.2" y="61.0" font-size="8.28" fill="#231815" font-weight="normal" text-anchor="middle" dominant-baseline="central" textLength="36.0" lengthAdjust="spacingAndGlyphs" stroke="#231815" stroke-width="0.22">ステッカー</text>
<text x="647.4" y="41.8" font-size="8.28" fill="#231815" font-weight="normal" text-anchor="middle" dominant-baseline="central" textLength="14.4" lengthAdjust="spacingAndGlyphs" stroke="#231815" stroke-width="0.22">やや</text>
<text x="647.4" y="54.9" font-size="8.28" fill="#231815" font-weight="normal" text-anchor="middle" dominant-baseline="central" textLength="28.8" lengthAdjust="spacingAndGlyphs" stroke="#231815" stroke-width="0.22">特殊素材</text>
<text x="647.4" y="67.6" font-size="8.28" fill="#231815" font-weight="normal" text-anchor="middle" dominant-baseline="central" textLength="21.6" lengthAdjust="spacingAndGlyphs" stroke="#231815" stroke-width="0.22">シール</text>
<text x="684.8" y="41.8" font-size="8.28" fill="#231815" font-weight="normal" text-anchor="middle" dominant-baseline="central" textLength="14.4" lengthAdjust="spacingAndGlyphs" stroke="#231815" stroke-width="0.22">簡易</text>
<text x="684.8" y="54.9" font-size="8.28" fill="#231815" font-weight="normal" text-anchor="middle" dominant-baseline="central" textLength="21.6" lengthAdjust="spacingAndGlyphs" stroke="#231815" stroke-width="0.22">アテン</text>
<text x="684.8" y="67.6" font-size="8.28" fill="#231815" font-weight="normal" text-anchor="middle" dominant-baseline="central" textLength="21.6" lengthAdjust="spacingAndGlyphs" stroke="#231815" stroke-width="0.22">ション</text>
<text x="22.0" y="295.2" font-size="9.00" fill="#231815" text-anchor="middle" dominant-baseline="central" textLength="8.5" lengthAdjust="spacingAndGlyphs" stroke="#231815" stroke-width="0.22">紙</text>
<text x="22.0" y="312.9" font-size="9.00" fill="#231815" text-anchor="middle" dominant-baseline="central" textLength="8.5" lengthAdjust="spacingAndGlyphs" stroke="#231815" stroke-width="0.22">素</text>
<text x="22.0" y="330.6" font-size="9.00" fill="#231815" text-anchor="middle" dominant-baseline="central" textLength="8.5" lengthAdjust="spacingAndGlyphs" stroke="#231815" stroke-width="0.22">材</text>
<text x="21.2" y="565.9" font-size="8.00" fill="#231815" text-anchor="middle" dominant-baseline="central" textLength="7.4" lengthAdjust="spacingAndGlyphs" stroke="#231815" stroke-width="0.22">合</text>
<text x="21.2" y="573.8" font-size="8.00" fill="#231815" text-anchor="middle" dominant-baseline="central" textLength="7.4" lengthAdjust="spacingAndGlyphs" stroke="#231815" stroke-width="0.22">成</text>
<text x="21.2" y="582.2" font-size="8.00" fill="#231815" text-anchor="middle" dominant-baseline="central" textLength="7.4" lengthAdjust="spacingAndGlyphs" stroke="#231815" stroke-width="0.22">紙</text>
<circle cx="21.2" cy="590.6" r="0.9" fill="#231815"/>
<text x="21.2" y="599.0" font-size="8.00" fill="#231815" text-anchor="middle" dominant-baseline="central" textLength="7.4" lengthAdjust="spacingAndGlyphs" stroke="#231815" stroke-width="0.22">フ</text>
<text x="21.2" y="607.8" font-size="8.00" fill="#231815" text-anchor="middle" dominant-baseline="central" textLength="5.5" lengthAdjust="spacingAndGlyphs" stroke="#231815" stroke-width="0.22">ィ</text>
<text x="21.2" y="615.7" font-size="8.00" fill="#231815" text-anchor="middle" dominant-baseline="central" textLength="7.4" lengthAdjust="spacingAndGlyphs" stroke="#231815" stroke-width="0.22">ル</text>
<text x="21.2" y="623.1" font-size="8.00" fill="#231815" text-anchor="middle" dominant-baseline="central" textLength="7.4" lengthAdjust="spacingAndGlyphs" stroke="#231815" stroke-width="0.22">ム</text>
<circle cx="21.2" cy="630.6" r="0.9" fill="#231815"/>
<text x="21.2" y="637.9" font-size="8.60" fill="#231815" text-anchor="middle" dominant-baseline="central" textLength="5.6" lengthAdjust="spacingAndGlyphs" stroke="#231815" stroke-width="0.22">P</text>
<text x="21.2" y="646.3" font-size="8.60" fill="#231815" text-anchor="middle" dominant-baseline="central" textLength="5.6" lengthAdjust="spacingAndGlyphs" stroke="#231815" stroke-width="0.22">E</text>
<text x="21.2" y="654.2" font-size="8.60" fill="#231815" text-anchor="middle" dominant-baseline="central" textLength="5.6" lengthAdjust="spacingAndGlyphs" stroke="#231815" stroke-width="0.22">T</text>
<text x="21.2" y="662.1" font-size="8.00" fill="#231815" text-anchor="middle" dominant-baseline="central" textLength="7.4" lengthAdjust="spacingAndGlyphs" stroke="#231815" stroke-width="0.22">素</text>
<text x="21.2" y="670.5" font-size="8.00" fill="#231815" text-anchor="middle" dominant-baseline="central" textLength="7.4" lengthAdjust="spacingAndGlyphs" stroke="#231815" stroke-width="0.22">材</text>
<path d="M17.6 683.7Q21.2 679.3 24.8 683.7" stroke="#231815" stroke-width="0.8" fill="none"/>
<text x="21.2" y="687.8" font-size="8.00" fill="#231815" text-anchor="middle" dominant-baseline="central" textLength="7.4" lengthAdjust="spacingAndGlyphs" stroke="#231815" stroke-width="0.22">耐</text>
<text x="21.2" y="695.2" font-size="8.00" fill="#231815" text-anchor="middle" dominant-baseline="central" textLength="7.4" lengthAdjust="spacingAndGlyphs" stroke="#231815" stroke-width="0.22">水</text>
<path d="M17.6 698.5Q21.2 702.9 24.8 698.5" stroke="#231815" stroke-width="0.8" fill="none"/>
<text x="21.6" y="744.2" font-size="9.20" fill="#231815" text-anchor="middle" dominant-baseline="central" textLength="8.8" lengthAdjust="spacingAndGlyphs" stroke="#231815" stroke-width="0.22">や</text>
<text x="21.6" y="753.0" font-size="9.20" fill="#231815" text-anchor="middle" dominant-baseline="central" textLength="8.8" lengthAdjust="spacingAndGlyphs" stroke="#231815" stroke-width="0.22">や</text>
<text x="21.6" y="761.9" font-size="9.20" fill="#231815" text-anchor="middle" dominant-baseline="central" textLength="8.8" lengthAdjust="spacingAndGlyphs" stroke="#231815" stroke-width="0.22">特</text>
<text x="21.6" y="770.7" font-size="9.20" fill="#231815" text-anchor="middle" dominant-baseline="central" textLength="8.8" lengthAdjust="spacingAndGlyphs" stroke="#231815" stroke-width="0.22">殊</text>
<text x="21.6" y="779.6" font-size="9.20" fill="#231815" text-anchor="middle" dominant-baseline="central" textLength="8.8" lengthAdjust="spacingAndGlyphs" stroke="#231815" stroke-width="0.22">素</text>
<text x="21.6" y="788.4" font-size="9.20" fill="#231815" text-anchor="middle" dominant-baseline="central" textLength="8.8" lengthAdjust="spacingAndGlyphs" stroke="#231815" stroke-width="0.22">材</text>
</svg>
</body></html>
